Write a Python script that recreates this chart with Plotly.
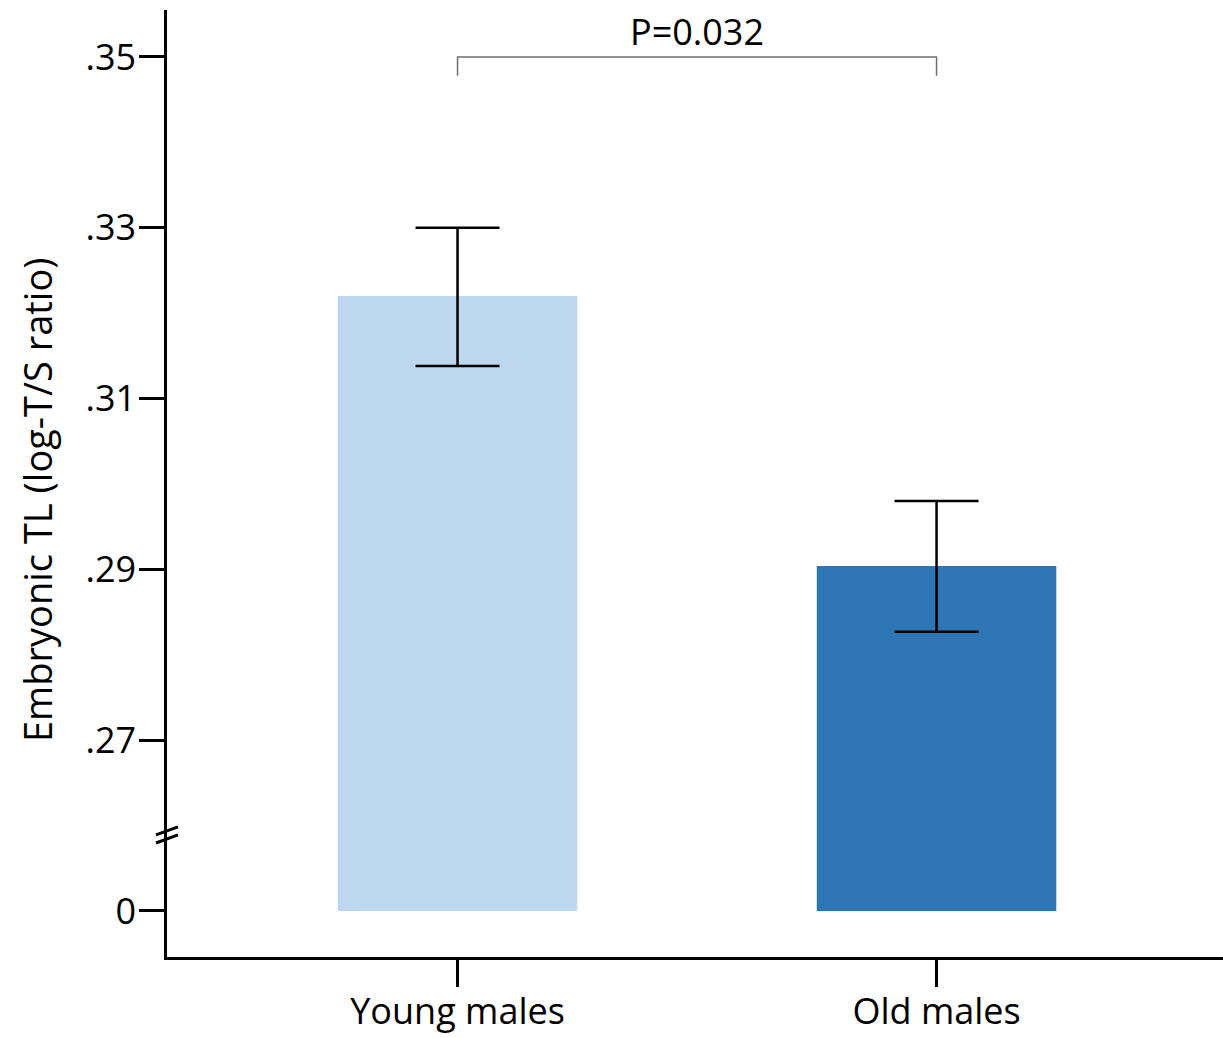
import plotly.graph_objects as go

# Data
categories = ["Young males", "Old males"]
means = [0.322, 0.2904]
ci_upper = [0.330, 0.298]
ci_lower = [0.3138, 0.2827]
bar_colors = ["#BDD7EE", "#2E75B6"]
tick_vals = [0.25, 0.27, 0.29, 0.31, 0.33, 0.35]
tick_text = ["0", ".27", ".29", ".31", ".33", ".35"]
p_text = "P=0.032"
y_title = "Embryonic TL (log-T/S ratio)"

axis_floor = 0.25  # axis break: displayed "0" sits here

FONT = "Open Sans, Calibri, Carlito, sans-serif"
FS = 36

W, H = 1223, 1038
L, R, T, B = 167, 0, 10, 81
pw, ph = W - L - R, H - T - B

fig = go.Figure()
fig.add_trace(go.Bar(
    x=categories,
    y=[m - axis_floor for m in means],
    base=[axis_floor] * len(means),
    marker=dict(color=bar_colors, line=dict(width=0)),
    width=0.5,
    error_y=dict(
        type="data",
        symmetric=False,
        array=[u - m for u, m in zip(ci_upper, means)],
        arrayminus=[m - l for m, l in zip(means, ci_lower)],
        color="black",
        thickness=2.5,
        width=42,
    ),
    showlegend=False,
))

# significance bracket
y_br = 0.35
y_end = 0.3478
fig.add_shape(type="path",
              path=f"M 0,{y_end} L 0,{y_br} L 1,{y_br} L 1,{y_end}",
              xref="x", yref="y", line=dict(color="#707070", width=1.5))
fig.add_annotation(x=0.5, y=y_br, xref="x", yref="y", text=p_text,
                   showarrow=False, yanchor="bottom", yshift=-1,
                   font=dict(family=FONT, size=FS, color="black"))

# y-axis title
fig.add_annotation(x=(37 - L) / pw, y=(H - B - 500) / ph, xref="paper", yref="paper",
                   text=y_title, textangle=-90, showarrow=False,
                   xanchor="center", yanchor="middle",
                   font=dict(family=FONT, size=38, color="black"))

# axis break marks
yc = 0.2589
for dy in [0.00047, -0.00047]:
    yb = yc + dy
    fig.add_shape(type="line", xref="paper", yref="y",
                  x0=-0.0104, x1=0.0104, y0=yb - 0.00047, y1=yb + 0.00047,
                  line=dict(color="black", width=3))

fig.update_layout(
    width=W, height=H,
    margin=dict(l=L, r=R, t=T, b=B, autoexpand=False),
    plot_bgcolor="white", paper_bgcolor="white",
    font=dict(family=FONT, size=FS, color="black"),
    xaxis=dict(
        range=[-0.6065, 1.598],
        automargin=False,
        showline=True, linecolor="black", linewidth=2.5,
        ticks="outside", ticklen=27, tickwidth=2.5, tickcolor="black",
        ticklabelstandoff=-6,
        showgrid=False, zeroline=False,
        tickfont=dict(family=FONT, size=FS),
    ),
    yaxis=dict(
        range=[0.24461, 0.3555],
        automargin=False,
        tickmode="array", tickvals=tick_vals, ticktext=tick_text,
        showline=True, linecolor="black", linewidth=2.5,
        ticks="outside", ticklen=25, tickwidth=2.5, tickcolor="black",
        ticklabelstandoff=-4,
        showgrid=False, zeroline=False,
        tickfont=dict(family=FONT, size=FS),
    ),
)

fig.write_html("out.html", config={"displayModeBar": False},
               post_script="document.body.style.margin='0';document.body.style.overflow='hidden';")
